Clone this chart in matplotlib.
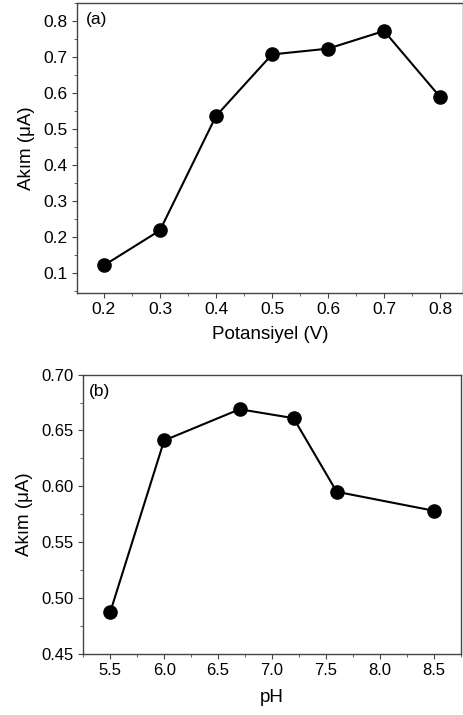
import numpy as np
import matplotlib
matplotlib.use("Agg")
import matplotlib.pyplot as plt
from matplotlib.ticker import MultipleLocator

plt.rcParams['font.family'] = ['Liberation Sans', 'DejaVu Sans']
plt.rcParams['font.size'] = 12.5

# (a) akim - potansiyel
potansiyel = [0.2, 0.3, 0.4, 0.5, 0.6, 0.7, 0.8]
akim_a = [0.122, 0.219, 0.536, 0.707, 0.723, 0.772, 0.589]

# (b) akim - pH
ph = [5.5, 6.0, 6.7, 7.2, 7.6, 8.5]
akim_b = [0.487, 0.641, 0.669, 0.661, 0.595, 0.578]

fig = plt.figure(figsize=(4.64, 7.15), dpi=100)
ax1 = fig.add_axes([0.166, 0.590, 0.832, 0.406])
ax2 = fig.add_axes([0.178, 0.086, 0.815, 0.390])

spine_col = '#444444'


def stil(ax, fs):
    for s in ax.spines.values():
        s.set_color(spine_col)
        s.set_linewidth(1.0)
    ax.tick_params(which='both', direction='out', color=spine_col, top=False, right=False)
    ax.tick_params(which='major', length=3.5, pad=3, labelsize=fs)
    ax.tick_params(which='minor', length=2)


ax1.plot(potansiyel, akim_a, '-o', color='black', lw=1.5, ms=9.5)
ax1.set_xlim(0.152, 0.841)
ax1.set_ylim(0.045, 0.85)
ax1.xaxis.set_major_locator(MultipleLocator(0.1))
ax1.xaxis.set_minor_locator(MultipleLocator(0.05))
ax1.yaxis.set_major_locator(MultipleLocator(0.1))
ax1.yaxis.set_minor_locator(MultipleLocator(0.05))
ax1.xaxis.set_major_formatter(lambda v, p: f"{v:.1f}")
ax1.yaxis.set_major_formatter(lambda v, p: f"{v:.1f}")
ax1.set_xlabel('Potansiyel (V)', fontsize=13.5, labelpad=6)
ax1.set_ylabel('Akım (μA)', fontsize=13.5, labelpad=6)
ax1.text(0.022, 0.97, '(a)', transform=ax1.transAxes, va='top', ha='left', fontsize=12.5)
stil(ax1, 12.5)

ax2.plot(ph, akim_b, '-o', color='black', lw=1.5, ms=9.5)
ax2.set_xlim(5.244, 8.75)
ax2.set_ylim(0.45, 0.70)
ax2.xaxis.set_major_locator(MultipleLocator(0.5))
ax2.xaxis.set_minor_locator(MultipleLocator(0.25))
ax2.yaxis.set_major_locator(MultipleLocator(0.05))
ax2.yaxis.set_minor_locator(MultipleLocator(0.025))
ax2.xaxis.set_major_formatter(lambda v, p: f"{v:.1f}")
ax2.yaxis.set_major_formatter(lambda v, p: f"{v:.2f}")
ax2.set_xlabel('pH', fontsize=13.5, labelpad=8)
ax2.set_ylabel('Akım (μA)', fontsize=13.5, labelpad=6)
ax2.text(0.017, 0.965, '(b)', transform=ax2.transAxes, va='top', ha='left', fontsize=12.5)
stil(ax2, 12)

fig.savefig('out.png', dpi=100)
